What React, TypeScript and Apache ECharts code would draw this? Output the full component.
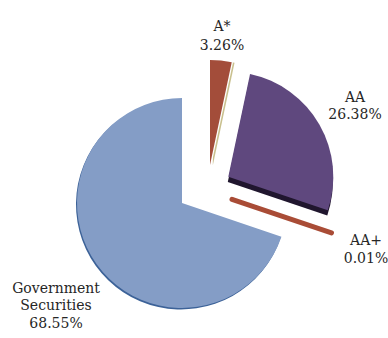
import React, { useEffect, useRef } from "react";
import * as echarts from "echarts";

// Data
const categories = ["A*", "AA", "AA+", "Government Securities"];
const shares = [3.26, 26.38, 0.01, 68.55];
const labelNames = ["A*", "AA", "AA+", "Government\nSecurities"];

const FONT = "'DejaVu Serif', serif";
const R = 105;

function sliceSeries(
  target: number,
  center: [number, number],
  color: string,
  extra: { borderColor?: string; borderWidth?: number } = {}
) {
  return {
    type: "pie",
    center,
    radius: R,
    startAngle: 90,
    clockwise: true,
    silent: true,
    avoidLabelOverlap: false,
    label: { show: false },
    labelLine: { show: false },
    emphasis: { disabled: true },
    data: shares.map((v, i) => ({
      name: categories[i],
      value: v,
      itemStyle:
        i === target
          ? {
              color,
              borderColor: extra.borderColor ?? color,
              borderWidth: extra.borderWidth ?? 0,
            }
          : { color: "rgba(0,0,0,0)", borderWidth: 0 },
    })),
  };
}

export default function App() {
  const ref = useRef<HTMLDivElement>(null);
  useEffect(() => {
    if (!ref.current) return;
    const chart = echarts.init(ref.current, null, { renderer: "svg" });

    const labelPos: { x: number; top: number; lh: number }[] = [
      { x: 222, top: 17, lh: 18.5 },
      { x: 355, top: 88, lh: 17.6 },
      { x: 366, top: 231, lh: 18 },
      { x: 56, top: 279, lh: 17.5 },
    ];

    const graphics = shares.map((v, i) => ({
      type: "text",
      x: labelPos[i].x,
      y: labelPos[i].top,
      silent: true,
      style: {
        text: labelNames[i] + "\n" + v.toFixed(2) + "%",
        font: `14px ${FONT}`,
        fill: "#262626",
        textAlign: "center",
        textVerticalAlign: "top",
        lineHeight: labelPos[i].lh,
      },
    }));

    chart.setOption({
      animation: false,
      backgroundColor: "#ffffff",
      series: [
        // Government Securities shadow edge + slice
        sliceSeries(3, [181, 204.5], "#3c6298"),
        sliceSeries(3, [182, 203], "#849dc6"),
        // A* with tan side line
        sliceSeries(0, [212.8, 165.5], "#c9c08e"),
        sliceSeries(0, [211.3, 165], "#ffffff"),
        sliceSeries(0, [210, 165], "#a34d3a"),
        // AA with dark side
        sliceSeries(1, [227.8, 182], "#20162e"),
        sliceSeries(1, [228.3, 176.7], "#5f487e"),
        // AA+ (tiny slice drawn as a thick line)
        sliceSeries(2, [232, 199.3], "#a94c36", { borderWidth: 5 }),
      ],
      graphic: graphics,
    });
    return () => chart.dispose();
  }, []);
  return (
    <div
      ref={ref}
      style={{ position: "absolute", left: 0, top: 0, width: 388, height: 338 }}
    />
  );
}
